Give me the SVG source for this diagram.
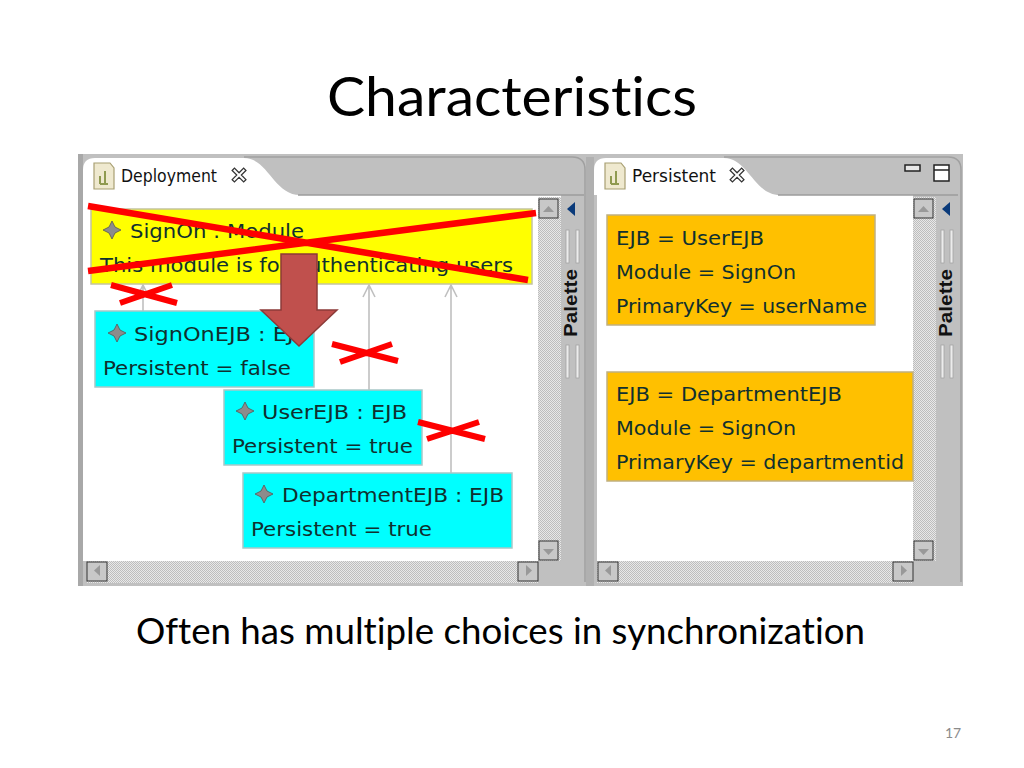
<svg xmlns="http://www.w3.org/2000/svg" width="1024" height="768" viewBox="0 0 1024 768">
<style>
.t{font-family:"Lato","Noto Sans",sans-serif;fill:#000;font-variant-ligatures:none}
.l{font-family:"DejaVu Sans","Liberation Sans",sans-serif;font-size:20px;fill:#10302f}
.tab{font-family:"DejaVu Sans","Liberation Sans",sans-serif;font-size:18px;fill:#111}
.pal{font-family:"Liberation Sans",sans-serif;font-size:19px;font-weight:bold;fill:#111}
.x{stroke:#fe0000;fill:none}
.c{stroke:#c0c0c0;stroke-width:1.6;fill:none}
.ye{fill:#ffff00;stroke:#c4c4a0;stroke-width:1.5}
.cy{fill:#00ffff;stroke:#a8c8c8;stroke-width:1.5}
.or{fill:#ffc000;stroke:#c0b080;stroke-width:1.5}
.btn{fill:#c8c8c8;stroke:#333;stroke-width:1}
.grip{fill:#ececec;stroke:#a4a4a4;stroke-width:.8}
</style>
<defs>
<pattern id="dith" width="2" height="2" patternUnits="userSpaceOnUse"><rect width="2" height="2" fill="#e8e8e8"/><rect width="1" height="1" fill="#bdbdbd"/><rect x="1" y="1" width="1" height="1" fill="#bdbdbd"/></pattern>
<g id="doc"><path d="M2 1h16l4 5v21H2z" fill="#efe9cf" stroke="#a89f72" stroke-width="1.2"/><path d="M8 22v-8M13 22V9M8 22h8" stroke="#8f9a50" stroke-width="2" fill="none"/></g>
<g id="close"><path d="M1 3l2-2 4 4 4-4 2 2-4 4 4 4-2 2-4-4-4 4-2-2 4-4z" transform="scale(1.15)" fill="#fff" stroke="#333" stroke-width="1.1"/></g>
<path id="star" d="M0-9 3-3 9 0 3 3 0 9-3 3-9 0-3-3z" fill="#8c8c8c" stroke="#555" stroke-width=".8"/>
</defs>
<rect width="1024" height="768" fill="#fff"/>
<text class="t" x="327" y="116" font-size="54" textLength="370" lengthAdjust="spacingAndGlyphs">Characteristics</text>

<g id="screenshot">
<rect x="78" y="154" width="885" height="432" fill="#c0c0c0"/>
<rect x="78" y="154" width="5" height="432" fill="#a8a8a8"/>
<rect x="586" y="157" width="8" height="429" fill="#b0b0b0"/>
<path d="M83 195V170q0-12 12-12H244c24 0 30 37 56 37z" fill="#fff"/>
<rect x="83" y="195" width="478" height="366" fill="#fff"/>
<path d="M594 195V170q0-12 12-12H724c24 0 30 37 56 37z" fill="#fff"/>
<rect x="597" y="195" width="316" height="366" fill="#fff"/>
<path d="M298 195H584M778 195H958" stroke="#9c9c9c" stroke-width="1.5"/>
<path d="M244 157H572q13 0 13 13V582M724 157H948q13 0 13 13V582" stroke="#a0a0a0" stroke-width="1.5" fill="none"/>
<use href="#doc" x="92" y="162"/>
<text class="tab" x="121" y="182" textLength="96" lengthAdjust="spacingAndGlyphs">Deployment</text>
<use href="#close" x="231" y="167"/>
<use href="#doc" x="603" y="162"/>
<text class="tab" x="632" y="182" textLength="84" lengthAdjust="spacingAndGlyphs">Persistent</text>
<use href="#close" x="729" y="167"/>
<rect x="905" y="165" width="15" height="6" fill="#e8e8e8" stroke="#222" stroke-width="1.5"/>
<rect x="934" y="165" width="15" height="16" fill="#fff" stroke="#222" stroke-width="1.5"/><path d="M934 170h15" stroke="#222" stroke-width="1.5"/>

<rect x="538" y="197" width="23" height="364" fill="url(#dith)"/>
<rect x="913" y="197" width="23" height="364" fill="url(#dith)"/>
<rect x="87" y="561" width="451" height="22" fill="url(#dith)"/>
<rect x="597" y="561" width="316" height="22" fill="url(#dith)"/>
<rect x="539" y="199" width="19" height="19" class="btn"/><path d="M543 212h11l-5.500-6z" fill="#999"/>
<rect x="914" y="199" width="19" height="19" class="btn"/><path d="M918 212h11l-5.500-6z" fill="#999"/>
<rect x="539" y="541" width="19" height="19" class="btn"/><path d="M543 549h11l-5.500 6z" fill="#999"/>
<rect x="914" y="541" width="19" height="19" class="btn"/><path d="M918 549h11l-5.500 6z" fill="#999"/>
<rect x="87" y="562" width="20" height="19" class="btn"/><path d="M100 565v11l-6-5.500z" fill="#999"/>
<rect x="518" y="562" width="20" height="19" class="btn"/><path d="M526 565v11l6-5.500z" fill="#999"/>
<rect x="598" y="562" width="20" height="19" class="btn"/><path d="M611 565v11l-6-5.500z" fill="#999"/>
<rect x="893" y="562" width="20" height="19" class="btn"/><path d="M901 565v11l6-5.500z" fill="#999"/>

<path d="M575 202v14l-8-7z" fill="#0a3a7a"/>
<path d="M950 202v14l-8-7z" fill="#0a3a7a"/>
<g id="grips">
<rect x="566" y="230" width="3" height="33" class="grip"/><rect x="576" y="230" width="3" height="33" class="grip"/>
<rect x="566" y="345" width="3" height="33" class="grip"/><rect x="576" y="345" width="3" height="33" class="grip"/>
<rect x="941" y="230" width="3" height="33" class="grip"/><rect x="950" y="230" width="3" height="33" class="grip"/>
<rect x="941" y="345" width="3" height="33" class="grip"/><rect x="950" y="345" width="3" height="33" class="grip"/>
</g>
<text class="pal" transform="translate(577 337) rotate(-90)" textLength="68" lengthAdjust="spacingAndGlyphs">Palette</text>
<text class="pal" transform="translate(952 337) rotate(-90)" textLength="68" lengthAdjust="spacingAndGlyphs">Palette</text>
</g>

<g id="connectors">
<path class="c" d="M143 311V285M137 297l6-12 6 12"/>
<path class="c" d="M369 390V285M363 297l6-12 6 12"/>
<path class="c" d="M451 473V285M445 297l6-12 6 12"/>
</g>

<g id="signon">
<rect class="ye" x="91" y="209" width="441" height="75"/>
<use href="#star" x="112" y="230"/>
<text class="l" x="130" y="238" textLength="174" lengthAdjust="spacingAndGlyphs">SignOn : Module</text>
<text class="l" x="100" y="272" textLength="413" lengthAdjust="spacingAndGlyphs">This module is for authenticating users</text>
</g>
<g id="signonejb">
<rect class="cy" x="95" y="311" width="219" height="76"/>
<use href="#star" x="117" y="333"/>
<text class="l" x="134" y="341" textLength="175" lengthAdjust="spacingAndGlyphs">SignOnEJB : EJB</text>
<text class="l" x="103" y="375" textLength="188" lengthAdjust="spacingAndGlyphs">Persistent = false</text>
</g>
<g id="userejb">
<rect class="cy" x="224" y="390" width="198" height="75"/>
<use href="#star" x="245" y="411"/>
<text class="l" x="262" y="419" textLength="145" lengthAdjust="spacingAndGlyphs">UserEJB : EJB</text>
<text class="l" x="232" y="453" textLength="181" lengthAdjust="spacingAndGlyphs">Persistent = true</text>
</g>
<g id="departmentejb">
<rect class="cy" x="243" y="473" width="269" height="75"/>
<use href="#star" x="264" y="494"/>
<text class="l" x="282" y="502" textLength="222" lengthAdjust="spacingAndGlyphs">DepartmentEJB : EJB</text>
<text class="l" x="251" y="536" textLength="181" lengthAdjust="spacingAndGlyphs">Persistent = true</text>
</g>
<g id="persist-user">
<rect class="or" x="607" y="215" width="268" height="110"/>
<text class="l" x="616" y="245" textLength="148" lengthAdjust="spacingAndGlyphs">EJB = UserEJB</text>
<text class="l" x="616" y="279" textLength="180" lengthAdjust="spacingAndGlyphs">Module = SignOn</text>
<text class="l" x="616" y="313" textLength="251" lengthAdjust="spacingAndGlyphs">PrimaryKey = userName</text>
</g>
<g id="persist-dept">
<rect class="or" x="607" y="372" width="306" height="109"/>
<text class="l" x="616" y="401" textLength="226" lengthAdjust="spacingAndGlyphs">EJB = DepartmentEJB</text>
<text class="l" x="616" y="435" textLength="180" lengthAdjust="spacingAndGlyphs">Module = SignOn</text>
<text class="l" x="616" y="469" textLength="288" lengthAdjust="spacingAndGlyphs">PrimaryKey = departmentid</text>
</g>

<g id="crosses">
<path class="x" stroke-width="6.500" d="M88 206 528 280M88 271 536 213"/>
<path class="x" stroke-width="6" d="M111 285 177 303M120 303 172 285"/>
<path class="x" stroke-width="6" d="M332 344 398 361M340 362 392 344"/>
<path class="x" stroke-width="6" d="M418 422 485 439M427 439 479 422"/>
</g>
<path id="block-arrow" d="M281 254H317V310H337L299 346 261 310H281z" fill="#c0504d" stroke="#8c3a38" stroke-width="1.500"/>

<text class="t" x="136" y="644" font-size="37" textLength="729" lengthAdjust="spacingAndGlyphs">Often has multiple choices in synchronization</text>
<text x="945" y="738" font-family="Lato,sans-serif" font-size="14" fill="#8b8b8b">17</text>
</svg>
